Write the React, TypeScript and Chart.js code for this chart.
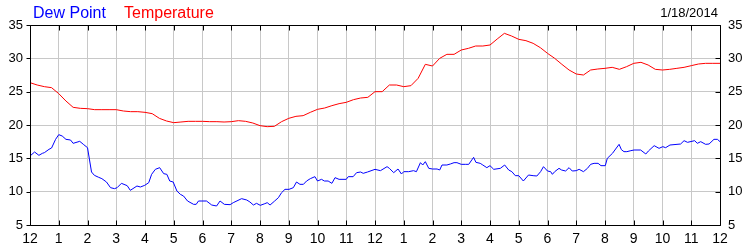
import React, { useEffect, useRef } from "react";
import { Chart, registerables } from "chart.js";

Chart.register(...registerables);

// Hour tick labels (midnight to midnight)
const hourLabels = ["12", "1", "2", "3", "4", "5", "6", "7", "8", "9", "10", "11", "12", "1", "2", "3", "4", "5", "6", "7", "8", "9", "10", "11", "12"];

// Temperature readings every 15 minutes, 0:00 .. 24:00
const tempStepHours = 0.25;
const temperature = [
  26.35, 26.0, 25.75, 25.6, 24.7, 23.6, 22.65, 22.5,
  22.45, 22.3, 22.3, 22.3, 22.3, 22.1, 22.0, 22.0,
  21.9, 21.7, 21.0, 20.6, 20.35, 20.45, 20.55, 20.55,
  20.55, 20.5, 20.5, 20.45, 20.5, 20.65, 20.55, 20.3,
  19.9, 19.75, 19.8, 20.5, 21.0, 21.3, 21.4, 21.9,
  22.35, 22.55, 22.9, 23.2, 23.4, 23.8, 24.05, 24.15,
  25.0, 25.0, 26.0, 26.0, 25.75, 25.9, 27.0, 29.1,
  28.85, 30.0, 30.6, 30.6, 31.25, 31.5, 31.85, 31.85,
  32.0, 32.9, 33.75, 33.35, 32.85, 32.65, 32.25, 31.6,
  30.75, 30.0, 29.1, 28.25, 27.65, 27.5, 28.25, 28.4,
  28.5, 28.65, 28.35, 28.75, 29.25, 29.4, 29.0, 28.35,
  28.25, 28.35, 28.5, 28.65, 28.9, 29.15, 29.25, 29.25,
  29.25,
];

// Dew point readings (hour of day, value)
const dewHours = [
  0, 0.16, 0.31, 0.43, 0.5, 0.66, 0.75, 0.89, 1.0, 1.12, 1.25, 1.41, 1.5, 1.73, 1.87, 2.0,
  2.14, 2.24, 2.39, 2.5, 2.66, 2.8, 2.94, 3.03, 3.18, 3.38, 3.49, 3.72, 3.84, 3.99,
  4.13, 4.23, 4.36, 4.51, 4.65, 4.76, 4.86, 4.98, 5.11, 5.23, 5.34, 5.48, 5.69, 5.78, 5.86, 5.98,
  6.14, 6.32, 6.49, 6.61, 6.76, 6.96, 7.07, 7.36, 7.54, 7.65, 7.77, 7.88, 8.01, 8.17, 8.25, 8.35,
  8.51, 8.64, 8.75, 8.87, 9.01, 9.16, 9.27, 9.39, 9.51, 9.62, 9.75, 9.91, 10.0, 10.14, 10.24,
  10.37, 10.5, 10.61, 10.75, 11.0, 11.07, 11.24, 11.36, 11.5, 11.59, 11.74, 12.0,
  12.19, 12.42, 12.5, 12.65, 12.8, 12.92, 13.0, 13.17, 13.34, 13.44, 13.58, 13.66, 13.75, 13.87,
  14.0, 14.16, 14.25, 14.33, 14.5, 14.62, 14.75, 14.85, 15.0, 15.14, 15.26, 15.43, 15.51, 15.66,
  15.75, 15.89, 16.0, 16.13, 16.36, 16.51, 16.65, 16.76, 16.88, 17.0, 17.16, 17.34, 17.5, 17.63,
  17.76, 17.86, 18.0, 18.11, 18.17, 18.25, 18.4, 18.49, 18.63, 18.75, 18.86, 19.0, 19.1, 19.25,
  19.39, 19.5, 19.62, 19.76, 19.86, 20.01, 20.08, 20.26, 20.37, 20.49, 20.57, 20.66, 20.76, 20.9,
  21.01, 21.24, 21.42, 21.51, 21.71, 21.88, 22.01, 22.11, 22.26, 22.63, 22.75, 22.87, 23.12, 23.21,
  23.33, 23.5, 23.62, 23.79, 23.91, 24.0,
];
const dewPoint = [
  15.35, 15.95, 15.45, 15.75, 15.85, 16.35, 16.55, 17.85, 18.55, 18.35, 17.85, 17.75, 17.25, 17.55, 17.05, 16.6,
  12.95, 12.45, 12.15, 11.95, 11.45, 10.6, 10.45, 10.6, 11.25, 10.9, 10.2, 10.85, 10.7, 10.95,
  11.35, 12.6, 13.35, 13.6, 12.7, 12.6, 11.6, 11.45, 10.1, 9.6, 9.35, 8.6, 8.1, 8.1, 8.6, 8.6,
  8.6, 8.0, 7.85, 8.6, 8.1, 8.05, 8.35, 8.95, 8.75, 8.45, 8.0, 8.25, 7.95, 8.2, 8.35, 8.0,
  8.6, 9.1, 9.85, 10.35, 10.35, 10.6, 11.45, 11.1, 11.1, 11.6, 11.95, 12.25, 11.6, 11.85, 11.6,
  11.6, 11.25, 12.1, 11.85, 11.85, 12.25, 12.25, 12.85, 12.95, 12.75, 12.95, 13.35,
  13.15, 13.75, 13.5, 12.85, 13.4, 12.65, 13.0, 13.0, 13.15, 13.0, 14.35, 14.0, 14.5, 13.5,
  13.4, 13.4, 13.25, 14.0, 14.0, 14.15, 14.35, 14.35, 14.1, 14.1, 14.1, 15.15, 14.4, 14.25,
  14.0, 13.6, 13.9, 13.35, 13.5, 14.0, 13.25, 13.0, 12.4, 12.4, 11.6, 12.5, 12.4, 12.35,
  13.0, 13.75, 13.1, 13.0, 12.6, 13.0, 13.5, 13.25, 13.1, 13.6, 13.1, 13.15, 13.35, 13.0,
  13.5, 14.1, 14.25, 14.25, 13.9, 13.9, 15.0, 15.75, 16.4, 17.1, 16.3, 16.0, 16.0, 16.15,
  16.25, 16.25, 15.65, 16.1, 16.9, 16.5, 16.75, 16.6, 17.0, 17.15, 17.65, 17.4, 17.65, 17.25,
  17.5, 17.1, 17.15, 17.85, 17.85, 17.5,
];

const yMin = 5;
const yMax = 35;
const yStep = 5;
const dateLabel = "1/18/2014";
const seriesNames = ["Dew Point", "Temperature"];

const FONT = '"Liberation Sans", Arial, sans-serif';

const decorPlugin = {
  id: "decor",
  afterDraw(chart: any) {
    const { ctx, chartArea: a, scales } = chart;
    const L = Math.round(a.left) + 0.5;
    const R = Math.round(a.right) + 0.5;
    const T = Math.round(a.top) + 0.5;
    const B = Math.round(a.bottom) + 0.5;
    ctx.save();
    ctx.strokeStyle = "#000";
    ctx.lineWidth = 1;
    ctx.beginPath();
    ctx.rect(L, T, R - L, B - T);
    // hour ticks (inside, top and bottom)
    scales.x.ticks.forEach((t: any) => {
      const x = Math.round(scales.x.getPixelForValue(t.value)) + 0.5;
      ctx.moveTo(x, B);
      ctx.lineTo(x, B - 5);
      ctx.moveTo(x, T);
      ctx.lineTo(x, T + 5);
    });
    // value ticks (left outside, right inside)
    scales.y.ticks.forEach((t: any) => {
      const y = Math.round(scales.y.getPixelForValue(t.value)) + 0.5;
      ctx.moveTo(L, y);
      ctx.lineTo(L - 4, y);
      ctx.moveTo(R, y);
      ctx.lineTo(R - 5, y);
    });
    ctx.stroke();

    // header texts
    ctx.textBaseline = "alphabetic";
    ctx.font = `16px ${FONT}`;
    ctx.textAlign = "left";
    ctx.fillStyle = "#0000ff";
    ctx.fillText(seriesNames[0], 33, 18);
    ctx.fillStyle = "#ff0000";
    ctx.fillText(seriesNames[1], 124, 18);
    ctx.font = `13px ${FONT}`;
    ctx.fillStyle = "#000";
    ctx.textAlign = "right";
    ctx.fillText(dateLabel, 718, 17);
    ctx.restore();
  },
};

export default function App() {
  const ref = useRef<HTMLCanvasElement>(null);

  useEffect(() => {
    if (!ref.current) return;
    const tempPoints = temperature.map((v, i) => ({ x: i * tempStepHours, y: v }));
    const dewPoints = dewPoint.map((v, i) => ({ x: dewHours[i], y: v }));
    const tickFont = { family: FONT, size: 13 };
    const chart = new Chart(ref.current, {
      type: "line",
      data: {
        datasets: [
          {
            label: seriesNames[1],
            data: tempPoints,
            borderColor: "#ff0000",
            borderWidth: 1,
            pointRadius: 0,
            tension: 0,
          },
          {
            label: seriesNames[0],
            data: dewPoints,
            borderColor: "#0000ff",
            borderWidth: 1,
            pointRadius: 0,
            tension: 0,
          },
        ],
      },
      options: {
        responsive: false,
        animation: false,
        events: [],
        layout: { padding: { top: 25, left: 0, right: 0, bottom: 0 } },
        plugins: { legend: { display: false }, tooltip: { enabled: false }, title: { display: false } },
        scales: {
          x: {
            type: "linear",
            min: 0,
            max: 24,
            afterFit: (s: any) => { s.height = 25; },
            grid: { color: "#c8c8c8", drawTicks: false },
            border: { display: false },
            ticks: {
              stepSize: 1,
              autoSkip: false,
              maxRotation: 0,
              padding: 6,
              color: "#000",
              font: { family: FONT, size: 14 },
              callback: (v: any) => hourLabels[Math.round(Number(v))] ?? "",
            },
          },
          y: {
            position: "left",
            min: yMin,
            max: yMax,
            afterFit: (s: any) => { s.width = 30; },
            grid: { color: "#c8c8c8", drawTicks: false },
            border: { display: false },
            ticks: { stepSize: yStep, padding: 7, color: "#000", font: tickFont },
          },
          y2: {
            position: "right",
            min: yMin,
            max: yMax,
            afterFit: (s: any) => { s.width = 30; },
            grid: { drawOnChartArea: false, drawTicks: false },
            border: { display: false },
            ticks: { stepSize: yStep, padding: 8, color: "#000", font: tickFont },
          },
        },
      },
      plugins: [decorPlugin],
    });
    return () => chart.destroy();
  }, []);

  return (
    <div style={{ position: "absolute", left: 0, top: 0, width: 750, height: 250, background: "#fff" }}>
      <canvas ref={ref} width={750} height={250} style={{ display: "block" }} />
    </div>
  );
}
